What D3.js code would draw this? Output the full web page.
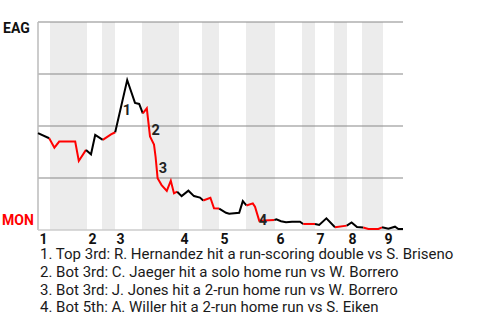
<!DOCTYPE html>
<html><head><meta charset="utf-8">
<script src="https://cdn.jsdelivr.net/npm/d3@7"></script>
<style>body{margin:0;background:#fff;}svg{display:block;font-family:Roboto,"Liberation Sans",sans-serif;}</style>
</head><body><svg id="c" width="480" height="320"></svg>
<script>
// Game progress (plate-appearance index) and EAG win probability
const eventIdx = [0,2.8,4.1,5.3,9.3,10.2,12,13.25,14.3,16.2,18.25,19.3,22.3,24.25,25.3,26.2,27.2,28,29,29.4,29.9,30.9,32.2,33.2,34,34.8,35.9,37.6,39,40.5,41.3,43.1,44,45.3,47,47.8,50.3,51.2,52.1,53.7,54.25,55.3,59.1,59.6,60.75,62,63.5,65.5,66.3,69.25,70.3,72.1,74.25,77.2,78.4,79.75,81.3,82.6,85.1,86,87.6,89.25,90.1,91.25];
const winProb  = [0.466,0.441,0.396,0.425,0.425,0.332,0.385,0.364,0.457,0.433,0.460,0.470,0.721,0.611,0.606,0.561,0.585,0.450,0.411,0.351,0.249,0.216,0.188,0.237,0.176,0.184,0.163,0.189,0.163,0.156,0.142,0.155,0.104,0.103,0.083,0.078,0.083,0.139,0.118,0.128,0.112,0.045,0.048,0.051,0.042,0.037,0.040,0.040,0.029,0.029,0.024,0.056,0.013,0.021,0.036,0.014,0.012,0.005,0.005,0.013,0.006,0.016,0.005,0.005];
// Innings
const inningLabels = ["1","2","3","4","5","6","7","8","9"];
const inningStart  = [0,12.25,19.25,35.25,45.25,59.25,69.25,77.25,86.25];
const bottomStart  = [3,16,26,41,52,66,74,81];
const gameEnd = 91.25;
// Teams
const topTeam = "EAG", bottomTeam = "MON";
// Annotations
const noteLabels = ["1","2","3","4"];
const noteIdx = [22.25,29.4,31.25,56.25];
const noteProb = [0.553,0.457,0.273,0.024];
const noteTexts = [
  "1. Top 3rd: R. Hernandez hit a run-scoring double vs S. Briseno",
  "2. Bot 3rd: C. Jaeger hit a solo home run vs W. Borrero",
  "3. Bot 3rd: J. Jones hit a 2-run home run vs W. Borrero",
  "4. Bot 5th: A. Willer hit a 2-run home run vs S. Eiken"
];
const gridProb = [0.25,0.5,0.75];

const svg = d3.select("#c");
const x = d3.scaleLinear().domain([0, gameEnd]).range([38, 403]);
const y = d3.scaleLinear().domain([0, 1]).range([230, 22]);

// bottom-half bands
const bands = bottomStart.map((s, k) => ({s, e: inningStart[k + 1]}));
svg.append("g").selectAll("rect").data(bands).join("rect")
  .attr("x", d => x(d.s)).attr("y", y(1))
  .attr("width", d => x(d.e) - x(d.s)).attr("height", y(0) - y(1))
  .attr("fill", "#ececec");

// grid lines
svg.append("g").selectAll("line").data(gridProb.concat([1])).join("line")
  .attr("x1", x(0)).attr("x2", x(gameEnd))
  .attr("y1", d => y(d)).attr("y2", d => y(d))
  .attr("stroke", "#888").attr("stroke-width", 1.2);

// axes lines
svg.append("line").attr("x1", x(0)).attr("x2", x(0)).attr("y1", y(1)).attr("y2", y(0))
  .attr("stroke", "#bbb").attr("stroke-width", 1.5);
svg.append("line").attr("x1", x(0)).attr("x2", x(gameEnd)).attr("y1", y(0)).attr("y2", y(0))
  .attr("stroke", "#ccc").attr("stroke-width", 1.5);

// line segments coloured by half inning
const pts = eventIdx.map((v, k) => ({i: v, p: winProb[k]}));
const isBottom = m => bands.some(b => m >= b.s && m < b.e);
const segs = [];
for (let k = 1; k < pts.length; k++) {
  const red = isBottom((pts[k - 1].i + pts[k].i) / 2);
  if (segs.length && segs[segs.length - 1].red === red) segs[segs.length - 1].pts.push(pts[k]);
  else segs.push({red, pts: [pts[k - 1], pts[k]]});
}
const line = d3.line().x(d => x(d.i)).y(d => y(d.p));
svg.append("g").selectAll("path").data(segs).join("path")
  .attr("d", d => line(d.pts)).attr("fill", "none")
  .attr("stroke", d => d.red ? "#ff0000" : "#000")
  .attr("stroke-width", 2).attr("stroke-linejoin", "miter");

// annotation numbers
svg.append("g").selectAll("text").data(noteLabels).join("text")
  .attr("x", (d, k) => x(noteIdx[k])).attr("y", (d, k) => y(noteProb[k]))
  .attr("text-anchor", "middle").attr("font-size", 14.5).attr("font-weight", "bold")
  .attr("fill", "#222").text(d => d);

// team labels
svg.append("text").attr("x", 3).attr("y", 33).attr("font-size", 14).attr("font-weight", "bold")
  .attr("fill", "#111").text(topTeam);
svg.append("text").attr("x", 2).attr("y", 225).attr("font-size", 14).attr("font-weight", "bold")
  .attr("fill", "#ff0000").text(bottomTeam);

// inning labels
svg.append("g").selectAll("text").data(inningLabels).join("text")
  .attr("x", (d, k) => x(inningStart[k]) + 1.5).attr("y", 243.5)
  .attr("font-size", 14).attr("font-weight", "bold").attr("fill", "#111").text(d => d);

// legend
svg.append("g").selectAll("text").data(noteTexts).join("text")
  .attr("x", 40).attr("y", (d, k) => 259 + k * 17.8)
  .attr("font-size", 15).attr("fill", "#1a1a1a").text(d => d);
</script></body></html>
